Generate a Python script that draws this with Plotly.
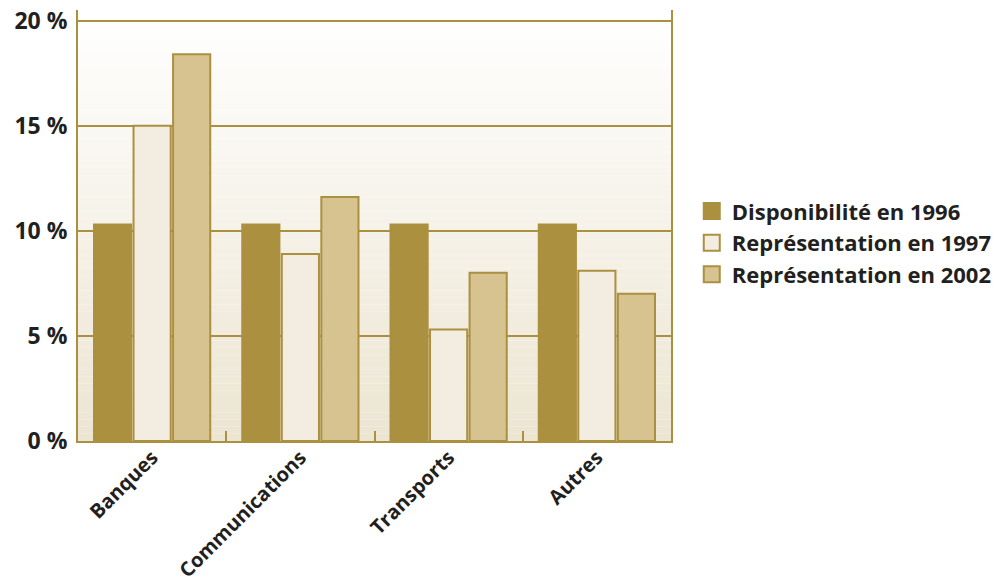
import plotly.graph_objects as go

# Sector shares (%)
categories = ["Banques", "Communications", "Transports", "Autres"]
dispo_1996 = [10.3, 10.3, 10.3, 10.3]
repr_1997 = [15.0, 8.9, 5.3, 8.1]
repr_2002 = [18.4, 11.6, 8.0, 7.0]
series_names = ["Disponibilité en 1996", "Représentation en 1997", "Représentation en 2002"]
y_ticks = [0, 5, 10, 15, 20]
y_tick_labels = ["0 %", "5 %", "10 %", "15 %", "20 %"]

GOLD = "#ab9040"
PALE = "#f3ede1"
TAN = "#d7c390"
TEXT = "#231f20"
FONT = "Open Sans"

fig = go.Figure()

styles = [
    (dispo_1996, GOLD, GOLD),
    (repr_1997, PALE, GOLD),
    (repr_2002, TAN, GOLD),
]
for i, ((vals, fill, line), name) in enumerate(zip(styles, series_names)):
    fig.add_trace(go.Bar(
        x=categories, y=vals, name=name,
        marker=dict(color=fill, line=dict(color=line, width=2)),
        showlegend=False,
    ))
    # legend entry with a larger square swatch
    fig.add_trace(go.Scatter(
        x=[None], y=[None], mode="markers", name=name,
        marker=dict(symbol="square", size=18, color=fill,
                    line=dict(color=line, width=2)),
    ))

# vertical gradient behind the plot area
top = (255, 255, 255)
bottom = (236, 229, 210)
n = 60
for i in range(n):
    t = i / (n - 1)
    c = tuple(round(top[k] + (bottom[k] - top[k]) * t) for k in range(3))
    fig.add_shape(
        type="rect", xref="x domain", yref="y domain",
        x0=0, x1=1, y0=1 - (i + 1) / n, y1=1 - i / n,
        fillcolor="rgb(%d,%d,%d)" % c, line=dict(width=0), layer="below",
    )

fig.update_layout(
    width=1003, height=588,
    margin=dict(l=78, r=332, t=10, b=147, autoexpand=False),
    paper_bgcolor="white",
    plot_bgcolor="rgba(0,0,0,0)",
    barmode="group",
    bargap=0.2,
    bargroupgap=0.06,
    font=dict(family=FONT, color=TEXT),
    legend=dict(
        x=1.035, y=0.46, xanchor="left", yanchor="middle",
        font=dict(size=22, family=FONT, color=TEXT, weight="bold"),
        itemwidth=30, bgcolor="rgba(0,0,0,0)",
    ),
    showlegend=True,
)

fig.update_xaxes(
    showline=True, linecolor=GOLD, linewidth=2, mirror=False,
    ticks="inside", tickson="boundaries", ticklen=10,
    tickcolor=GOLD, tickwidth=2,
    tickangle=-45, automargin=False, ticklabelstandoff=-5,
    tickfont=dict(size=20, family=FONT, color=TEXT, weight="bold"),
    showgrid=False,
)
fig.update_yaxes(
    range=[0, 20.5], automargin=False,
    tickvals=y_ticks, ticktext=y_tick_labels,
    tickfont=dict(size=23, family=FONT, color=TEXT, weight="bold"),
    showgrid=True, gridcolor=GOLD, gridwidth=2,
    showline=True, linecolor=GOLD, linewidth=2, mirror=True,
    zeroline=False, ticks="", ticklabelstandoff=4,
)

fig.write_html("out.html")
